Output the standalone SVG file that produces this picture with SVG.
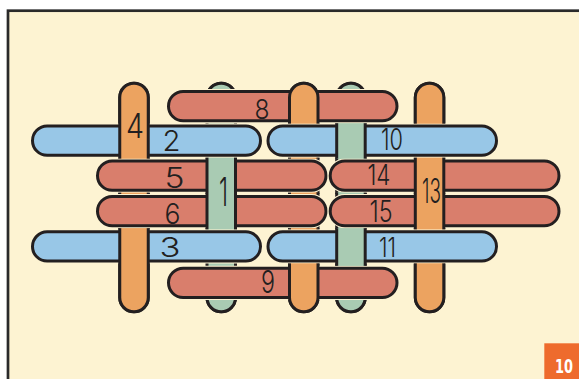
<svg xmlns="http://www.w3.org/2000/svg" width="579" height="379" viewBox="0 0 579 379">
<style>
.stk{stroke:#231f20;stroke-width:3}
.halo{fill:none;stroke:#fdf3d2;stroke-width:5}
.red{fill:#d97e6c}
.blue{fill:#98c7e7}
.orange{fill:#eca360}
.green{fill:#a9cbb3}
.lbl{font-family:Inter,"DejaVu Sans",sans-serif;font-weight:300;fill:#231f20}
</style>
<defs>
<clipPath id="c4"><rect x="0" y="80" width="579" height="78.5"/><rect x="0" y="192.8" width="579" height="1.2"/><rect x="0" y="228.3" width="579" height="88"/></clipPath>
<clipPath id="cg1"><rect x="0" y="80" width="579" height="9"/><rect x="0" y="157.8" width="579" height="71.5"/><rect x="0" y="300" width="579" height="16"/></clipPath>
<clipPath id="com"><rect x="0" y="80" width="579" height="43.5"/><rect x="0" y="157.8" width="579" height="0.7"/><rect x="0" y="192.8" width="579" height="1.2"/><rect x="0" y="228.3" width="579" height="1"/><rect x="0" y="263.6" width="579" height="52.4"/></clipPath>
<clipPath id="cgr"><rect x="0" y="80" width="579" height="9"/><rect x="0" y="123.3" width="579" height="35.2"/><rect x="0" y="192.8" width="579" height="1.2"/><rect x="0" y="228.3" width="579" height="37.4"/><rect x="0" y="300" width="579" height="16"/></clipPath>
<clipPath id="c13"><rect x="0" y="80" width="579" height="43.5"/><rect x="0" y="157.8" width="579" height="71.5"/><rect x="0" y="263.6" width="579" height="52.4"/></clipPath>
</defs>
<rect x="0" y="0" width="579" height="379" fill="#ffffff"/>
<rect id="frame" x="8" y="10.7" width="600" height="400" fill="#fdf3d2" stroke="#2a2a2a" stroke-width="2.7"/>

<!-- vertical sticks drawn first as base (under) -->
<g id="under">
<rect class="stk orange" x="119.75" y="83.2" width="28.5" height="228.6" rx="14.25"/>
<rect class="stk green" x="207" y="83.2" width="28.5" height="228.6" rx="14.25"/>
<rect class="stk orange" x="289.5" y="83.2" width="28.5" height="228.6" rx="14.25"/>
<rect class="stk green" x="336.7" y="83.2" width="28.5" height="228.6" rx="14.25"/>
<rect class="stk orange" x="415.3" y="83.2" width="28.5" height="228.6" rx="14.25"/>
</g>

<!-- horizontal sticks -->
<g id="stick-8"><rect class="halo" x="168.5" y="91.5" width="228.5" height="29.3" rx="14.65"/><rect class="stk red" x="168.5" y="91.5" width="228.5" height="29.3" rx="14.65"/><text class="lbl" x="254.5" y="118.5" font-size="27.5" textLength="15" lengthAdjust="spacingAndGlyphs">8</text></g>
<g id="stick-2"><rect class="halo" x="32.5" y="126" width="228" height="29.3" rx="14.65"/><rect class="stk blue" x="32.5" y="126" width="228" height="29.3" rx="14.65"/><text class="lbl" x="162.5" y="150.5" font-size="28" textLength="18" lengthAdjust="spacingAndGlyphs">2</text></g>
<g id="stick-10"><rect class="halo" x="268" y="126" width="228.5" height="29.3" rx="14.65"/><rect class="stk blue" x="268" y="126" width="228.5" height="29.3" rx="14.65"/><text class="lbl" x="381" y="150" font-size="30" textLength="22" lengthAdjust="spacingAndGlyphs">10</text></g>
<g id="stick-5"><rect class="halo" x="97.5" y="161" width="228.5" height="29.3" rx="14.65"/><rect class="stk red" x="97.5" y="161" width="228.5" height="29.3" rx="14.65"/><text class="lbl" x="164.5" y="187.5" font-size="28.5" textLength="20" lengthAdjust="spacingAndGlyphs">5</text></g>
<g id="stick-14"><rect class="halo" x="330.2" y="161" width="228.8" height="29.3" rx="14.65"/><rect class="stk red" x="330.2" y="161" width="228.8" height="29.3" rx="14.65"/><text class="lbl" x="367.5" y="185" font-size="29" textLength="23" lengthAdjust="spacingAndGlyphs">14</text></g>
<g id="stick-6"><rect class="halo" x="97.5" y="196.5" width="228.5" height="29.3" rx="14.65"/><rect class="stk red" x="97.5" y="196.5" width="228.5" height="29.3" rx="14.65"/><text class="lbl" x="164.5" y="223.5" font-size="29" textLength="16" lengthAdjust="spacingAndGlyphs">6</text></g>
<g id="stick-15"><rect class="halo" x="330.2" y="196.5" width="228.8" height="29.3" rx="14.65"/><rect class="stk red" x="330.2" y="196.5" width="228.8" height="29.3" rx="14.65"/><text class="lbl" x="369.5" y="221.7" font-size="29.5" textLength="23" lengthAdjust="spacingAndGlyphs">15</text></g>
<g id="stick-3"><rect class="halo" x="32.5" y="231.8" width="228" height="29.3" rx="14.65"/><rect class="stk blue" x="32.5" y="231.8" width="228" height="29.3" rx="14.65"/><text class="lbl" x="159.5" y="257" font-size="27.5" textLength="21" lengthAdjust="spacingAndGlyphs">3</text></g>
<g id="stick-11"><rect class="halo" x="268" y="231.8" width="228.5" height="29.3" rx="14.65"/><rect class="stk blue" x="268" y="231.8" width="228.5" height="29.3" rx="14.65"/><text class="lbl" x="379" y="257" font-size="27.5" textLength="17" lengthAdjust="spacingAndGlyphs">11</text></g>
<g id="stick-9"><rect class="halo" x="168.5" y="268.2" width="228.5" height="29.3" rx="14.65"/><rect class="stk red" x="168.5" y="268.2" width="228.5" height="29.3" rx="14.65"/><text class="lbl" x="261" y="293" font-size="31.5" textLength="14" lengthAdjust="spacingAndGlyphs">9</text></g>

<!-- vertical sticks: parts lying on top -->
<g id="stick-4"><rect class="stk orange" x="119.75" y="83.2" width="28.5" height="228.6" rx="14.25" clip-path="url(#c4)"/><text class="lbl" x="126" y="138.3" font-size="34" textLength="18" lengthAdjust="spacingAndGlyphs">4</text></g>
<g id="stick-1"><rect class="stk green" x="207" y="83.2" width="28.5" height="228.6" rx="14.25" clip-path="url(#cg1)"/><text class="lbl" x="219" y="206" font-size="40" textLength="9" lengthAdjust="spacingAndGlyphs">1</text></g>
<g id="stick-7"><rect class="stk orange" x="289.5" y="83.2" width="28.5" height="228.6" rx="14.25" clip-path="url(#com)"/></g>
<g id="stick-12"><rect class="stk green" x="336.7" y="83.2" width="28.5" height="228.6" rx="14.25" clip-path="url(#cgr)"/></g>
<g id="stick-13"><rect class="stk orange" x="415.3" y="83.2" width="28.5" height="228.6" rx="14.25" clip-path="url(#c13)"/><text class="lbl" x="422" y="203" font-size="34" textLength="19" lengthAdjust="spacingAndGlyphs">13</text></g>

<g id="badge"><rect x="544.3" y="343.3" width="40" height="40" fill="#ee6b2d"/><text x="555" y="373.3" font-family="'DejaVu Sans Condensed','DejaVu Sans',sans-serif" font-weight="bold" font-size="20" fill="#ffffff" textLength="18" lengthAdjust="spacingAndGlyphs">10</text></g>
</svg>
